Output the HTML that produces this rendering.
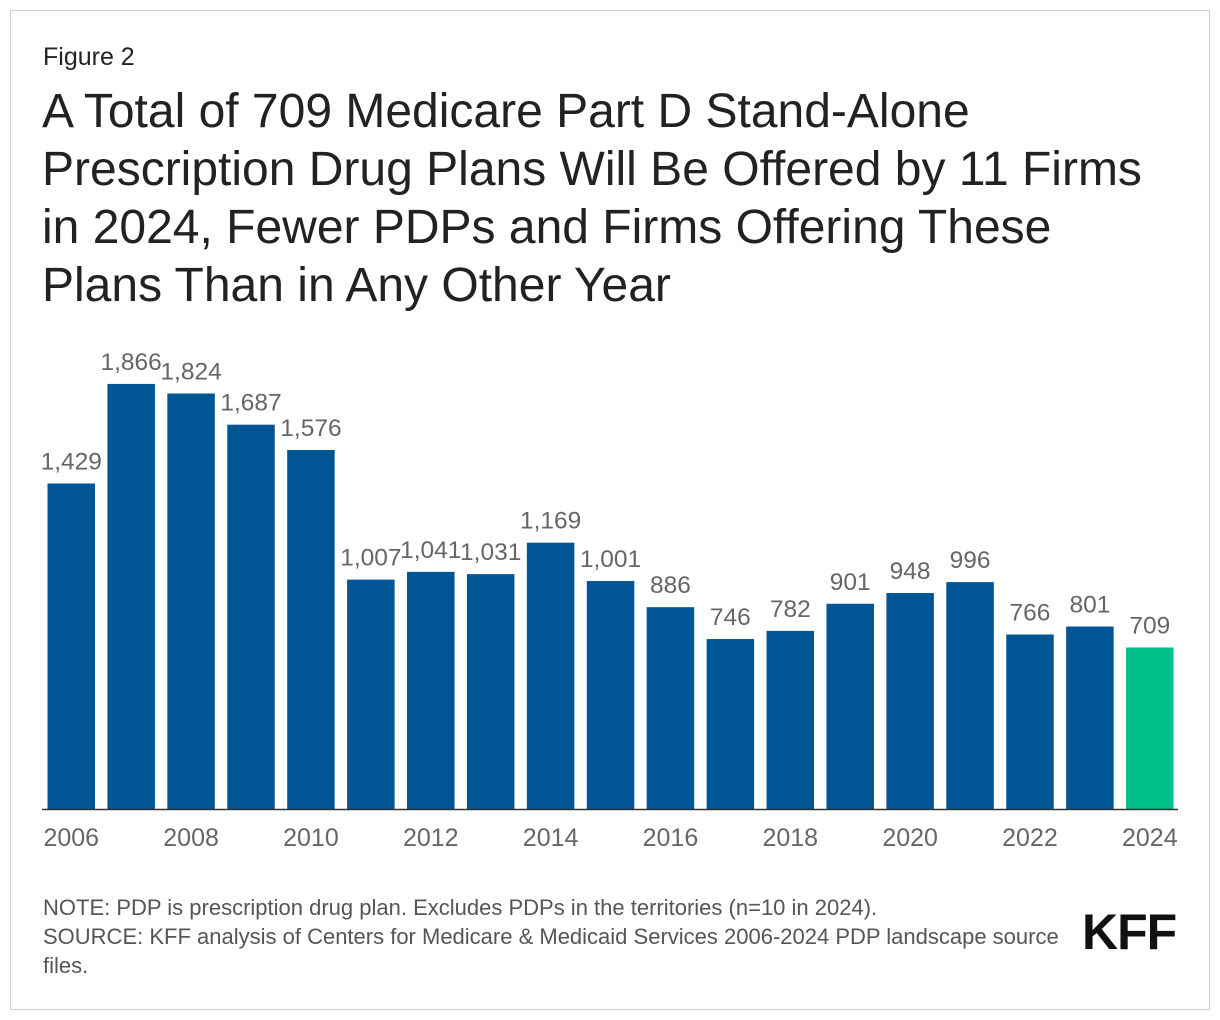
<!DOCTYPE html>
<html><head><meta charset="utf-8">
<style>
body{margin:0;background:#fff;font-family:"Liberation Sans",Arial,sans-serif;}
#wrap{position:relative;width:1220px;height:1020px;overflow:hidden;}
#frame{position:absolute;left:10px;top:10px;width:1198px;height:998px;border:1px solid #d0d0d0;}
#fig{position:absolute;left:43px;top:43px;font-size:25px;color:#222;}
#title{position:absolute;left:42px;top:83px;width:1175px;font-size:48px;line-height:58px;color:#222;}
.note{position:absolute;left:43px;font-size:22px;color:#555;line-height:29px;}
#kff{position:absolute;left:1082px;top:903px;font-size:50px;font-weight:bold;color:#111;letter-spacing:-1px;}
</style></head><body>
<div id="wrap">
<div id="frame"></div>
<div id="fig">Figure 2</div>
<div id="title">A Total of 709 Medicare Part D Stand-Alone<br>Prescription Drug Plans Will Be Offered by 11 Firms<br>in 2024, Fewer PDPs and Firms Offering These<br>Plans Than in Any Other Year</div>
<svg id="chart" width="1220" height="1020" style="position:absolute;left:0;top:0"></svg>
<div class="note" style="top:893px">NOTE: PDP is prescription drug plan. Excludes PDPs in the territories (n=10 in 2024).</div>
<div class="note" style="top:922px">SOURCE: KFF analysis of Centers for Medicare &amp; Medicaid Services 2006-2024 PDP landscape source<br>files.</div>
<div id="kff">KFF</div>
</div>
<script>
const years=[2006,2007,2008,2009,2010,2011,2012,2013,2014,2015,2016,2017,2018,2019,2020,2021,2022,2023,2024];
const values=[1429,1866,1824,1687,1576,1007,1041,1031,1169,1001,886,746,782,901,948,996,766,801,709];
const labels=["1,429","1,866","1,824","1,687","1,576","1,007","1,041","1,031","1,169","1,001","886","746","782","901","948","996","766","801","709"];
const svg=document.getElementById('chart');
const NS='http://www.w3.org/2000/svg';
const base=809, scale=0.2278, x0=47.5, pitch=59.92, bw=47.5;
const y=v=>base-v*scale;
const x=i=>x0+i*pitch;
function mk(t,a){const e=document.createElementNS(NS,t);for(const k in a)e.setAttribute(k,a[k]);svg.appendChild(e);return e;}
values.forEach((v,i)=>{
  const r=mk('rect',{x:x(i),y:y(v),width:bw,height:v*scale,fill:years[i]===2024?'#00bf8a':'#005595'});
  
  
  const t=mk('text',{x:x(i)+bw/2,y:y(v)-14,'text-anchor':'middle','font-size':24.5,fill:'#666','font-family':'Liberation Sans, Arial, sans-serif'});
  t.textContent=labels[i];
  
  
  if(years[i]%2===0){
    const yt=mk('text',{x:x(i)+bw/2,y:846,'text-anchor':'middle','font-size':25,fill:'#666','font-family':'Liberation Sans, Arial, sans-serif'});
    yt.textContent=years[i];
    
    
  }
});
const ax=mk('line',{x1:42,x2:1178,y1:base+0.5,y2:base+0.5,stroke:'#333','stroke-width':1.5});


</script>
</body></html>
